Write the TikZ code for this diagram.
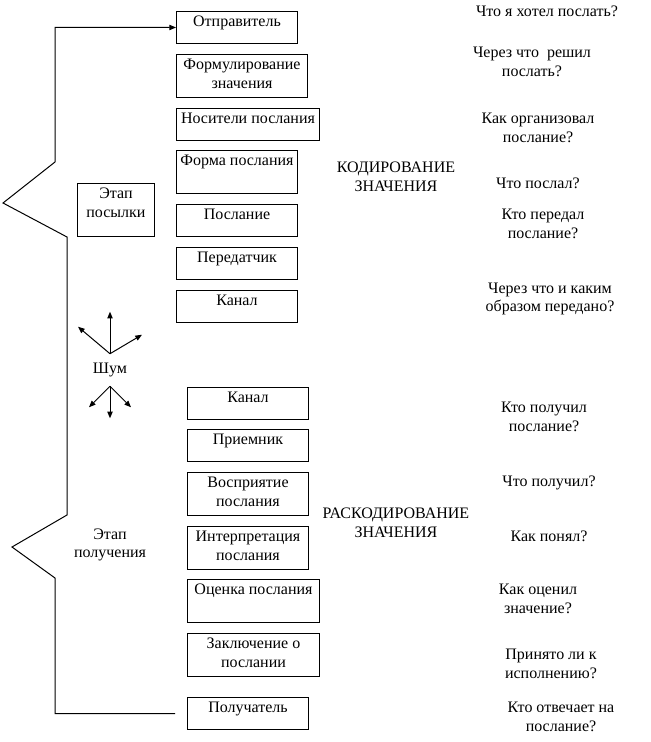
\documentclass[tikz,border=0pt]{standalone}
\usepackage{fontspec}
\setmainfont{Liberation Serif}
\usetikzlibrary{arrows.meta}

\begin{document}
\begin{tikzpicture}[
      x=0.75pt, y=-0.75pt,
      box/.style={draw, line width=0.75pt, anchor=north west, align=center,
                  minimum width=#1, inner xsep=1pt, inner ysep=1.5pt,
                  text height=10pt, text depth=11pt,
                  font=\fontsize{12}{14}\selectfont},
      box/.default=90.75pt,
      tall/.style={text depth=19.25pt},
      twoline/.style={text height=24pt, text depth=5.25pt},
      note/.style={align=center, inner sep=0pt, font=\fontsize{12}{14}\selectfont},
      arrow/.style={-{Triangle[length=5pt, width=4pt]}, line width=0.75pt},
      bracket/.style={line width=0.75pt},
    ]
    \useasboundingbox (0,0) rectangle (650,742);

    % кодирование
    \node[box]                 (otpr)   at (176,11)  {Отправитель};
    \node[box=98.25pt, twoline] (form)  at (176,54)  {Формулирование\\значения};
    \node[box=107.25pt]        (nosit)  at (176,108) {Носители послания};
    \node[box, tall]           (forma)  at (176,150) {Форма послания};
    \node[box]                 (posl)   at (176,204) {Послание};
    \node[box]                 (pered)  at (176,247) {Передатчик};
    \node[box]                 (kanal)  at (176,290) {Канал};
    \node[box=57.75pt, twoline, text depth=12.75pt] (etap) at (77,183) {Этап\\посылки};

    % раскодирование
    \node[box]                 (kanalb) at (187,387) {Канал};
    \node[box]                 (priem)  at (187,429) {Приемник};
    \node[box, twoline]        (vospr)  at (187,472) {Восприятие\\послания};
    \node[box, twoline]        (interp) at (187,526) {Интерпретация\\послания};
    \node[box=99pt, tall]      (ocen)   at (187,579) {Оценка послания};
    \node[box=99pt, twoline]   (zakl)   at (187,633) {Заключение о\\послании};
    \node[box]                 (polu)   at (187,697) {Получатель};
    \node[note] (etapb) at (110,545) {Этап\\получения};

    \node[note] (kod)   at (396,177) {КОДИРОВАНИЕ\\ЗНАЧЕНИЯ};
    \node[note] (raskod) at (396,523) {РАСКОДИРОВАНИЕ\\ЗНАЧЕНИЯ};

    % вопросы
    \node[note] (qotpr)   at (547,11)  {Что я хотел послать?};
    \node[note] (qform)   at (532,62)  {Через что\ \ решил\\послать?};
    \node[note] (qnosit)  at (538,128) {Как организовал\\послание?};
    \node[note] (qforma)  at (538,183) {Что послал?};
    \node[note] (qposl)   at (543,224) {Кто передал\\послание?};
    \node[note] (qkanal)  at (550,299) {Через что и каким\\образом передано?};
    \node[note] (qpriem)  at (544,417) {Кто получил\\послание?};
    \node[note] (qvospr)  at (549,483) {Что получил?};
    \node[note] (qinterp) at (549,536) {Как понял?};
    \node[note] (qocen)   at (538,599) {Как оценил\\значение?};
    \node[note] (qzakl)   at (551,664) {Принято ли к\\исполнению?};
    \node[note] (qpolu)   at (561,717) {Кто отвечает на\\послание?};

    % шум
    \node[note, text height=8pt, text depth=3pt, inner ysep=6.5pt] (shum) at (110,370) {Шум};
    \draw[arrow] (shum.north) -- +(0,-42);
    \draw[arrow] (shum.north) -- +(-32,-27);
    \draw[arrow] (shum.north) -- +(32,-19);
    \draw[arrow] (shum.south) -- +(0,32);
    \draw[arrow] (shum.south) -- +(-21,21);
    \draw[arrow] (shum.south) -- +(21,21);

    % скобка
    \draw[bracket, arrow] ([xshift=-9pt]polu.west) -| (55,578) -- (12,547) -- (67,515)
      -- (67,237) -- (3,203) -- (55,162) |- (otpr.west);
  \end{tikzpicture}
\end{document}
